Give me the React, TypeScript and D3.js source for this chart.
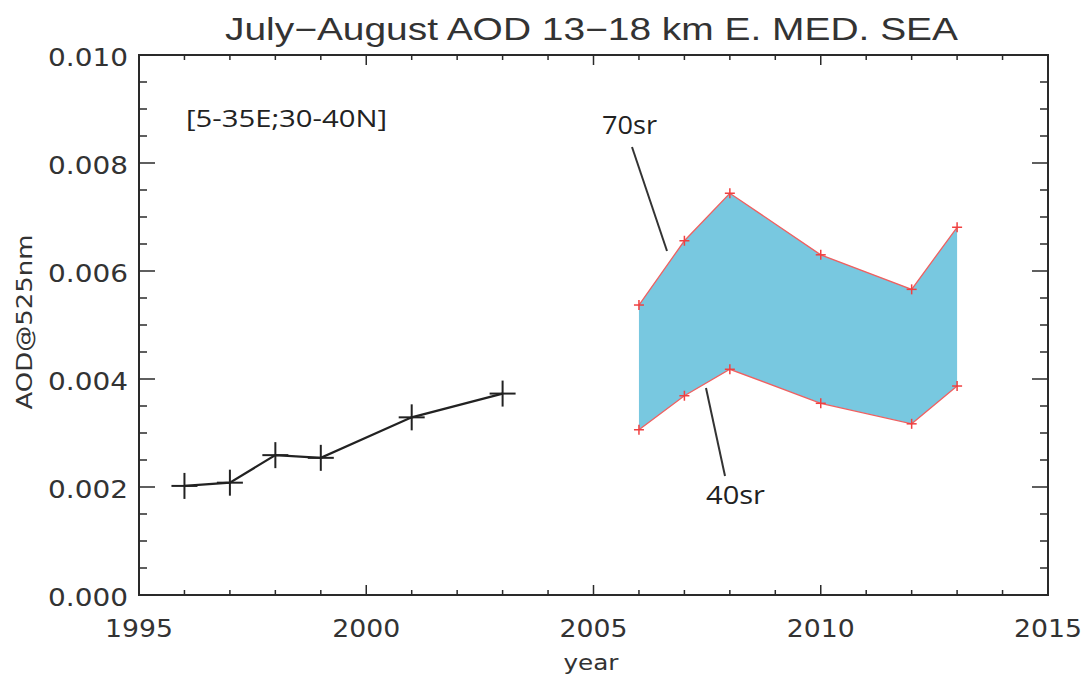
import React from "react";
import * as d3 from "d3";

const blackYears = [1996, 1997, 1998, 1999, 2001, 2003];
const blackValues = [0.00202, 0.00208, 0.00259, 0.00254, 0.00329, 0.00373];
const bandYears = [2006, 2007, 2008, 2010, 2012, 2013];
const upper70sr = [0.00537, 0.00656, 0.00744, 0.0063, 0.00566, 0.00681];
const lower40sr = [0.00306, 0.00369, 0.00418, 0.00355, 0.00317, 0.00387];
const xTickLabels = [1995, 2000, 2005, 2010, 2015];
const yTickLabels = ["0.000", "0.002", "0.004", "0.006", "0.008", "0.010"];

const W = 1087;
const H = 678;
const L = 139, R = 1048, T = 55, B = 595;
const FONT = "'DejaVu Sans', 'Liberation Sans', sans-serif";
const FONT_T = "'Liberation Sans', Arial, sans-serif";
const FONT2 = "'Open Sans', 'DejaVu Sans', sans-serif";
const AX = "#2a2a2a";

export default function App() {
  const x = d3.scaleLinear().domain([1995, 2015]).range([L, R]);
  const y = d3.scaleLinear().domain([0, 0.01]).range([B, T]);

  const blackPts = blackYears.map((yr, i) => [x(yr), y(blackValues[i])] as [number, number]);
  const upPts = bandYears.map((yr, i) => [x(yr), y(upper70sr[i])] as [number, number]);
  const loPts = bandYears.map((yr, i) => [x(yr), y(lower40sr[i])] as [number, number]);
  const line = d3.line();
  const area = d3
    .area<number>()
    .x((_, i) => x(bandYears[i]))
    .y0((_, i) => y(lower40sr[i]))
    .y1((d) => y(d));

  const xMinor = d3.range(1995, 2015.01, 1);
  const yMinor = d3.range(0, 0.01001, 0.0005);

  const ticks: React.ReactNode[] = [];
  xMinor.forEach((v, i) => {
    const major = Math.abs(v % 5) < 1e-6;
    const len = major ? 10 : 5;
    const px = x(v);
    ticks.push(<line key={"xb" + i} x1={px} x2={px} y1={B} y2={B - len} stroke={AX} strokeWidth={1.5} />);
    ticks.push(<line key={"xt" + i} x1={px} x2={px} y1={T} y2={T + len} stroke={AX} strokeWidth={1.5} />);
  });
  yMinor.forEach((v, i) => {
    const major = Math.abs((v / 0.002) - Math.round(v / 0.002)) < 1e-6;
    const len = major ? 16 : 8;
    const py = y(v);
    ticks.push(<line key={"yl" + i} x1={L} x2={L + len} y1={py} y2={py} stroke={AX} strokeWidth={1.5} />);
    ticks.push(<line key={"yr" + i} x1={R} x2={R - len} y1={py} y2={py} stroke={AX} strokeWidth={1.5} />);
  });

  const plus = (p: [number, number], s: number, color: string, sw: number, key: string) => (
    <g key={key} stroke={color} strokeWidth={sw}>
      <line x1={p[0] - s} x2={p[0] + s} y1={p[1]} y2={p[1]} />
      <line x1={p[0]} x2={p[0]} y1={p[1] - s} y2={p[1] + s} />
    </g>
  );

  return (
    <svg width={W} height={H} style={{ position: "absolute", left: 0, top: 0, background: "#fff" }}>
      <rect width={W} height={H} fill="#fff" />
      <text x={591.5} y={40} textAnchor="middle" fontFamily={FONT_T} fontSize={31} fill="#333" textLength={733} lengthAdjust="spacingAndGlyphs">
        July−August AOD 13−18 km E. MED. SEA
      </text>

      <path d={area(upper70sr) || ""} fill="#78c8e0" />
      <path d={line(upPts) || ""} fill="none" stroke="#f06060" strokeWidth={1.3} />
      <path d={line(loPts) || ""} fill="none" stroke="#f06060" strokeWidth={1.3} />
      {upPts.map((p, i) => plus(p, 5, "#f04040", 1.5, "u" + i))}
      {loPts.map((p, i) => plus(p, 5, "#f04040", 1.5, "l" + i))}

      <path d={line(blackPts) || ""} fill="none" stroke="#222" strokeWidth={2.2} />
      {blackPts.map((p, i) => plus(p, 13, "#222", 2, "b" + i))}

      <line x1={632} y1={147} x2={667} y2={251} stroke="#333" strokeWidth={2} />
      <line x1={706} y1={388} x2={725} y2={476} stroke="#333" strokeWidth={2} />
      <text x={602} y={134} fontFamily={FONT2} fontSize={26} fill="#222" textLength={55} lengthAdjust="spacingAndGlyphs">70sr</text>
      <text x={706} y={504} fontFamily={FONT2} fontSize={26} fill="#222" textLength={59} lengthAdjust="spacingAndGlyphs">40sr</text>
      <text x={186} y={127} fontFamily={FONT2} fontSize={23} fill="#222" textLength={201} lengthAdjust="spacingAndGlyphs">[5-35E;30-40N]</text>

      <rect x={L} y={T} width={R - L} height={B - T} fill="none" stroke={AX} strokeWidth={2} />
      {ticks}

      {xTickLabels.map((v) => (
        <text key={"xl" + v} x={x(v)} y={637} textAnchor="middle" fontFamily={FONT} fontSize={25} fill="#333" textLength={68} lengthAdjust="spacingAndGlyphs">
          {v}
        </text>
      ))}
      {yTickLabels.map((v) => (
        <text key={"yl" + v} x={128} y={y(+v) + 11} textAnchor="end" fontFamily={FONT} fontSize={25} fill="#333" textLength={80} lengthAdjust="spacingAndGlyphs">
          {v}
        </text>
      ))}
      <text x={591} y={670} textAnchor="middle" fontFamily={FONT} fontSize={21} fill="#333" textLength={55} lengthAdjust="spacingAndGlyphs">year</text>
      <text transform="translate(32,322) rotate(-90)" textAnchor="middle" fontFamily={FONT} fontSize={21} fill="#333" textLength={175} lengthAdjust="spacingAndGlyphs">
        AOD@525nm
      </text>
    </svg>
  );
}
